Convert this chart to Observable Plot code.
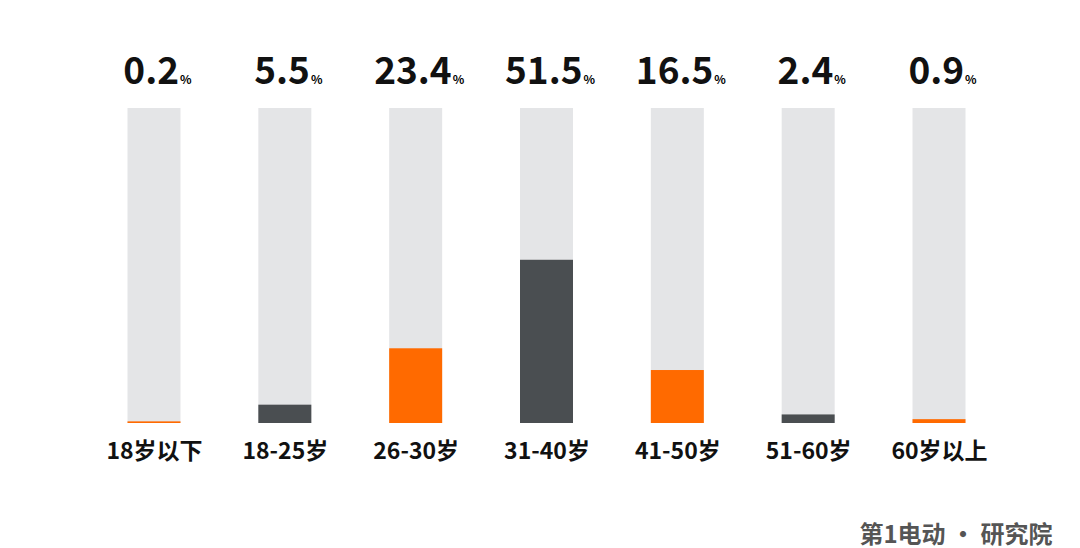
<!DOCTYPE html>
<html>
<head>
<meta charset="utf-8">
<script src="https://cdn.jsdelivr.net/npm/d3@7"></script>
<script src="https://cdn.jsdelivr.net/npm/@observablehq/plot@0.6"></script>
<style>
  html, body { margin: 0; padding: 0; background: #fff; }
  #chart svg { display: block; background: linear-gradient(to bottom, #ffffff 0%, #fcfcfc 35%, #ececec 70%, #dcdcdc 100%); }
</style>
</head>
<body>
<div id="chart"></div>
<script>
const categories = ["18岁以下", "18-25岁", "26-30岁", "31-40岁", "41-50岁", "51-60岁", "60岁以上"];
const values = [0.2, 5.5, 23.4, 51.5, 16.5, 2.4, 0.9];
const barColors = ["#ff6a00", "#4a4e51", "#ff6a00", "#4a4e51", "#ff6a00", "#4a4e51", "#ff6a00"];
const trackMax = 100;
const logoText = ["第1电动 · 研究院"];

const data = categories.map((c, i) => ({cat: c, value: values[i], color: barColors[i], max: trackMax}));
const font = "'Noto Sans CJK SC', 'Noto Sans', sans-serif";

const chart = Plot.plot({
  width: 1080,
  height: 548,
  marginTop: 0, marginBottom: 0, marginLeft: 0, marginRight: 0,
  style: {fontFamily: font, background: "transparent"},
  x: {domain: categories, range: [127.5, 965.5], paddingInner: 0.595, paddingOuter: 0, round: false, axis: null},
  y: {domain: [0, 100], range: [423, 108], axis: null},
  marks: [
    Plot.barY(data, {x: "cat", y: "max", fill: "#e4e5e7"}),
    Plot.barY(data, {x: "cat", y: "value", fill: "color", insetTop: -1}),
    Plot.text(data, {x: "cat", y: "max", text: d => d.value.toFixed(1), dy: -36, dx: 3, fontSize: 37, fontWeight: "bold", fill: "#111", textAnchor: "middle"}),
    Plot.text(data, {x: "cat", y: 0, text: "cat", dy: 28, fontSize: 23, fontWeight: "bold", fill: "#111"}),
    Plot.text(logoText, {frameAnchor: "bottom-right", dx: -28, dy: -6, fontSize: 24, fill: "#555", fontWeight: "bold", lineAnchor: "bottom"})
  ]
});

const textGroups = chart.querySelectorAll('g[aria-label="text"]');
d3.select(textGroups[0]).selectAll("text").each(function() {
  d3.select(this).append("tspan").attr("font-size", 12).attr("font-weight", "bold").attr("fill", "#000").attr("dx", 1).text("%");
});

document.getElementById("chart").appendChild(chart);
</script>
</body>
</html>
